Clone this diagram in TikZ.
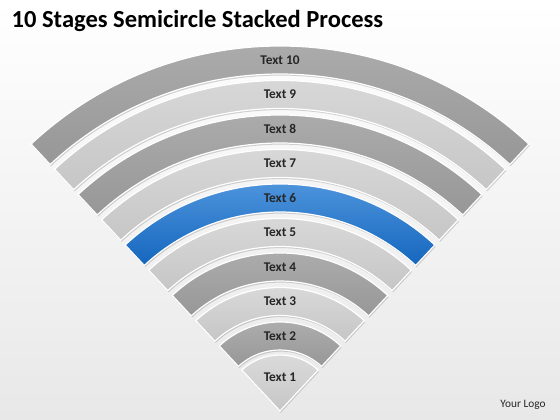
\documentclass[tikz,border=0pt]{standalone}
\usepackage{fontspec}
\setmainfont{Carlito}
\usetikzlibrary{shadows}

\definecolor{darktop}{HTML}{B0B0B0}
\definecolor{darkbot}{HTML}{979797}
\definecolor{lighttop}{HTML}{DCDCDC}
\definecolor{lightbot}{HTML}{C6C6C6}
\definecolor{bluetop}{HTML}{5A9EE2}
\definecolor{bluebot}{HTML}{1466BE}
\definecolor{textgray}{HTML}{262626}

\tikzset{
  band/.style={draw=white, line width=0.9pt,
    drop shadow={opacity=0.35, shadow xshift=0.6pt, shadow yshift=-1.2pt}},
  darkband/.style={band, top color=darktop, bottom color=darkbot},
  lightband/.style={band, top color=lighttop, bottom color=lightbot},
  hiliteband/.style={band, top color=bluetop, bottom color=bluebot},
  bandtext/.style={text=textgray, font=\bfseries\fontsize{10}{12}\selectfont}
}

\begin{document}
\begin{tikzpicture}[x=0.75pt, y=0.75pt]
  \useasboundingbox (0,0) rectangle (560,420);
  \shade[top color=white, bottom color=black!9] (0,0) rectangle (560,420);

  \node[anchor=base west, font=\bfseries\fontsize{18.4}{22}\selectfont] (title) at (7,392)
    {10 Stages Semicircle Stacked Process};

  \begin{scope}[shift={(280,9)}]
    % stage 1 is a plain wedge
    \path[lightband] (0,0) -- (47:56) arc[start angle=47, end angle=133, radius=56] -- cycle;
    \node[bandtext] (t1) at (90:34) {Text 1};
    % stages 2 to 10 are arc bands
    \foreach \k/\sty in {2/darkband, 3/lightband, 4/darkband, 5/lightband, 6/hiliteband,
                         7/lightband, 8/darkband, 9/lightband, 10/darkband}{
      \pgfmathsetmacro\rin{61+(\k-2)*34.5}
      \pgfmathsetmacro\rout{89+(\k-2)*34.5}
      \pgfmathsetmacro\rmid{75+(\k-2)*34.5}
      \path[\sty] (47:\rin) -- (47:\rout)
        arc[start angle=47, end angle=133, radius=\rout]
        -- (133:\rin) arc[start angle=133, end angle=47, radius=\rin] -- cycle;
      \node[bandtext] (t\k) at (90:\rmid) {Text \k};
    }
  \end{scope}

  \node[text=textgray, font=\fontsize{8.5}{10}\selectfont] (logo) at (523,15) {Your Logo};
\end{tikzpicture}
\end{document}
